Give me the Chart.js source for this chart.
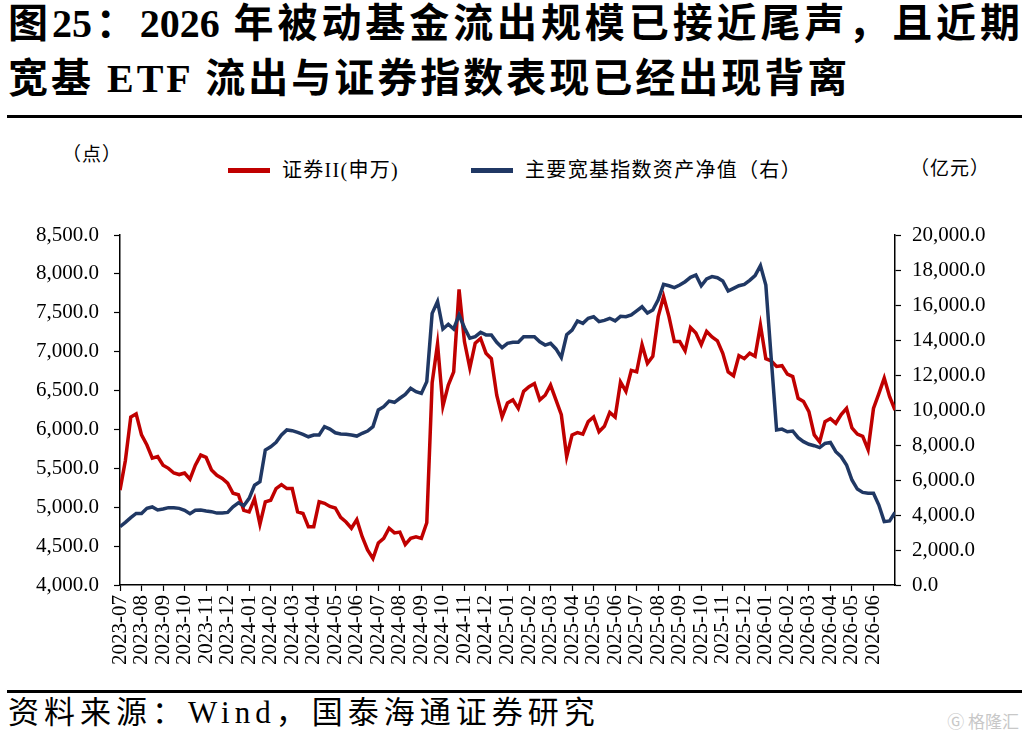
<!DOCTYPE html>
<html lang="zh-CN">
<head>
<meta charset="utf-8">
<title>证券II与主要宽基指数资产净值</title>
<script src="https://cdn.jsdelivr.net/npm/chart.js@4.4.1/dist/chart.umd.min.js"></script>
<style>
  html, body { margin: 0; padding: 0; background: #fff; }
  body {
    width: 1029px; height: 738px; position: relative; overflow: hidden;
    font-family: "Liberation Serif", "Noto Sans CJK SC", serif; color: #000;
  }
  .title { position: absolute; left: 8px; font-size: 40px; font-weight: bold; line-height: 46px; }
  #t1 { top: 1px; width: 1012px; text-align: justify; text-align-last: justify; }
  #t2 { top: 56px; letter-spacing: 3px; white-space: nowrap; }
  .rule { position: absolute; left: 7px; width: 1015px; background: #000; }
  #chartBox { position: absolute; left: 0; top: 120px; width: 1029px; height: 572px; }
  .unit { position: absolute; font-size: 19px; line-height: 22px; letter-spacing: 1px; }
  #legend { position: absolute; top: 158px; left: 228px; display: flex; align-items: center; font-size: 20px; line-height: 24px; letter-spacing: 1.3px; }
  #legend .item { display: flex; align-items: center; margin-right: 72px; }
  #legend .swatch { width: 42px; height: 5px; margin-right: 12px; }
  #source { position: absolute; left: 8px; top: 693px; font-size: 31px; line-height: 40px; letter-spacing: 5px; white-space: nowrap; }
  #mark { position: absolute; right: 10px; top: 708px; font-size: 17px; color: #c8c8c8; font-family: "Noto Sans CJK SC", sans-serif; }
</style>
</head>
<body>
<div class="title" id="t1">图25：2026 年被动基金流出规模已接近尾声，且近期</div>
<div class="title" id="t2">宽基 ETF 流出与证券指数表现已经出现背离</div>
<div class="rule" style="top:115px;height:3px;"></div>

<div class="unit" style="left:62px;top:144px;">（点）</div>
<div class="unit" style="left:910px;top:158px;">（亿元）</div>
<div id="legend"></div>

<div id="chartBox"><canvas id="lineChart"></canvas></div>

<div class="rule" style="top:690px;height:3px;"></div>
<div id="source">资料来源：Wind，国泰海通证券研究</div>
<div id="mark">Ⓖ 格隆汇</div>

<script>
// 月份刻度（x 轴）
var monthLabels = [
  "2023-07", "2023-08", "2023-09", "2023-10", "2023-11", "2023-12",
  "2024-01", "2024-02", "2024-03", "2024-04", "2024-05", "2024-06",
  "2024-07", "2024-08", "2024-09", "2024-10", "2024-11", "2024-12",
  "2025-01", "2025-02", "2025-03", "2025-04", "2025-05", "2025-06",
  "2025-07", "2025-08", "2025-09", "2025-10", "2025-11", "2025-12",
  "2026-01", "2026-02", "2026-03", "2026-04", "2026-05", "2026-06"
];
var leftTicks = [4000, 4500, 5000, 5500, 6000, 6500, 7000, 7500, 8000, 8500];
var rightTicks = [0, 2000, 4000, 6000, 8000, 10000, 12000, 14000, 16000, 18000, 20000];

var seriesNames = ["证券II(申万)", "主要宽基指数资产净值（右）"];
var seriesColors = ["#C00000", "#203864"];

// 每周一个观测点（每月 4 个）
var samplesPerMonth = 4;

// 证券II(申万) 指数，点
var securitiesIndex = [
  5220, 5600, 6160, 6200, 5930, 5800, 5630, 5650, 5540, 5500,
  5440, 5420, 5440, 5360, 5540, 5670, 5640, 5480, 5410, 5370,
  5310, 5180, 5160, 4960, 4940, 5110, 4780, 5070, 5090, 5240,
  5290, 5240, 5240, 4940, 4920, 4750, 4750, 5070, 5050, 5010,
  4990, 4870, 4810, 4730, 4840, 4620, 4450, 4340, 4540, 4600,
  4730, 4670, 4680, 4520, 4600, 4620, 4600, 4800, 6600, 7100,
  6300, 6570, 6740, 7800, 7130, 6790, 7110, 7170, 6980, 6910,
  6440, 6160, 6340, 6380, 6270, 6490, 6550, 6590, 6380, 6440,
  6570, 6380, 6190, 5650, 5930, 5960, 5940, 6100, 6160, 5970,
  6040, 6220, 6160, 6610, 6490, 6760, 6740, 7090, 6850, 6940,
  7450, 7710, 7450, 7130, 7130, 7010, 7310, 7240, 7090, 7260,
  7190, 7140, 6980, 6740, 6690, 6950, 6910, 6980, 6940, 7340,
  6910, 6880, 6810, 6820, 6710, 6680, 6400, 6360, 6230, 5930,
  5840, 6100, 6140, 6080, 6190, 6270, 6020, 5940, 5910, 5740,
  6270, 6460, 6660, 6420, 6250
];

// 主要宽基指数资产净值，亿元
var broadIndexNav = [
  3330, 3580, 3850, 4090, 4090, 4380, 4460, 4290, 4340, 4420,
  4420, 4380, 4270, 4070, 4270, 4290, 4230, 4190, 4110, 4110,
  4150, 4470, 4700, 4530, 4950, 5700, 5900, 7710, 7900, 8150,
  8570, 8860, 8820, 8720, 8610, 8470, 8570, 8570, 9050, 8910,
  8700, 8630, 8610, 8570, 8510, 8670, 8800, 9050, 10000, 10190,
  10510, 10440, 10670, 10890, 11240, 11050, 10950, 11620, 15520, 16200,
  14630, 14900, 14630, 15430, 14700, 14100, 14190, 14440, 14290, 14290,
  13870, 13560, 13810, 13870, 13870, 14190, 14190, 14190, 13900, 13710,
  13810, 13490, 13000, 14300, 14570, 15090, 14950, 15240, 15330, 15050,
  15120, 15240, 15090, 15350, 15330, 15430, 15660, 15900, 15540, 15710,
  16290, 17180, 17100, 16990, 17140, 17330, 17580, 17710, 17100, 17490,
  17620, 17560, 17370, 16800, 16950, 17100, 17180, 17410, 17680, 18250,
  17140, 12950, 8860, 8910, 8760, 8800, 8420, 8190, 8040, 7960,
  7850, 8090, 8150, 7620, 7330, 6860, 6000, 5480, 5290, 5240,
  5240, 4570, 3620, 3660, 4150
];

function toPoints(values) {
  return values.map(function (v, i) {
    return { x: i / samplesPerMonth, y: v };
  });
}

function fmt(v) {
  return Number(v).toLocaleString("en-US", { minimumFractionDigits: 1, maximumFractionDigits: 1 });
}

var serif = '"Liberation Serif", "Times New Roman", serif';

// 图例
var legendEl = document.getElementById("legend");
seriesNames.forEach(function (name, i) {
  var item = document.createElement("div");
  item.className = "item";
  var sw = document.createElement("span");
  sw.className = "swatch";
  sw.style.background = seriesColors[i];
  var tx = document.createElement("span");
  tx.textContent = name;
  item.appendChild(sw);
  item.appendChild(tx);
  legendEl.appendChild(item);
});

var ctx = document.getElementById("lineChart").getContext("2d");
var lineChart = new Chart(ctx, {
  type: "line",
  data: {
    datasets: [
      {
        label: seriesNames[0],
        data: toPoints(securitiesIndex),
        yAxisID: "y",
        borderColor: seriesColors[0],
        backgroundColor: seriesColors[0],
        borderWidth: 3.5,
        pointRadius: 0,
        order: 1,
      },
      {
        label: seriesNames[1],
        data: toPoints(broadIndexNav),
        yAxisID: "y1",
        borderColor: seriesColors[1],
        backgroundColor: seriesColors[1],
        borderWidth: 3.5,
        pointRadius: 0,
        order: 0,
      },
    ],
  },
  options: {
    responsive: true,
    maintainAspectRatio: false,
    animation: false,
    layout: { padding: { top: 115, left: 0, right: 0, bottom: 0 } },
    plugins: {
      legend: { display: false },
      tooltip: { enabled: false },
    },
    scales: {
      x: {
        type: "linear",
        min: 0,
        max: monthLabels.length,
        afterBuildTicks: function (scale) {
          scale.ticks = monthLabels.map(function (_, i) { return { value: i }; });
        },
        afterFit: function (scale) { scale.height = 107; },
        ticks: {
          autoSkip: false,
          minRotation: 90,
          maxRotation: 90,
          padding: 4,
          color: "#000",
          font: { family: serif, size: 21 },
          callback: function (v) { return monthLabels[Math.round(v)]; },
        },
        grid: { drawOnChartArea: false, tickLength: 6, color: "#000", tickWidth: 1.2 },
        border: { display: true, color: "#000", width: 1.5 },
      },
      y: {
        position: "left",
        min: 4000,
        max: 8500,
        afterBuildTicks: function (scale) {
          scale.ticks = leftTicks.map(function (v) { return { value: v }; });
        },
        afterFit: function (scale) { scale.width = 120; },
        ticks: {
          padding: 15,
          color: "#000",
          font: { family: serif, size: 21 },
          callback: fmt,
        },
        grid: { drawOnChartArea: false, tickLength: 6, color: "#000", tickWidth: 1.2 },
        border: { display: true, color: "#000", width: 1.5 },
      },
      y1: {
        position: "right",
        min: 0,
        max: 20000,
        afterBuildTicks: function (scale) {
          scale.ticks = rightTicks.map(function (v) { return { value: v }; });
        },
        afterFit: function (scale) { scale.width = 134; },
        ticks: {
          padding: 11,
          color: "#000",
          font: { family: serif, size: 21 },
          callback: fmt,
        },
        grid: { drawOnChartArea: false, tickLength: 6, color: "#000", tickWidth: 1.2 },
        border: { display: true, color: "#000", width: 1.5 },
      },
    },
  },
});
</script>
</body>
</html>
